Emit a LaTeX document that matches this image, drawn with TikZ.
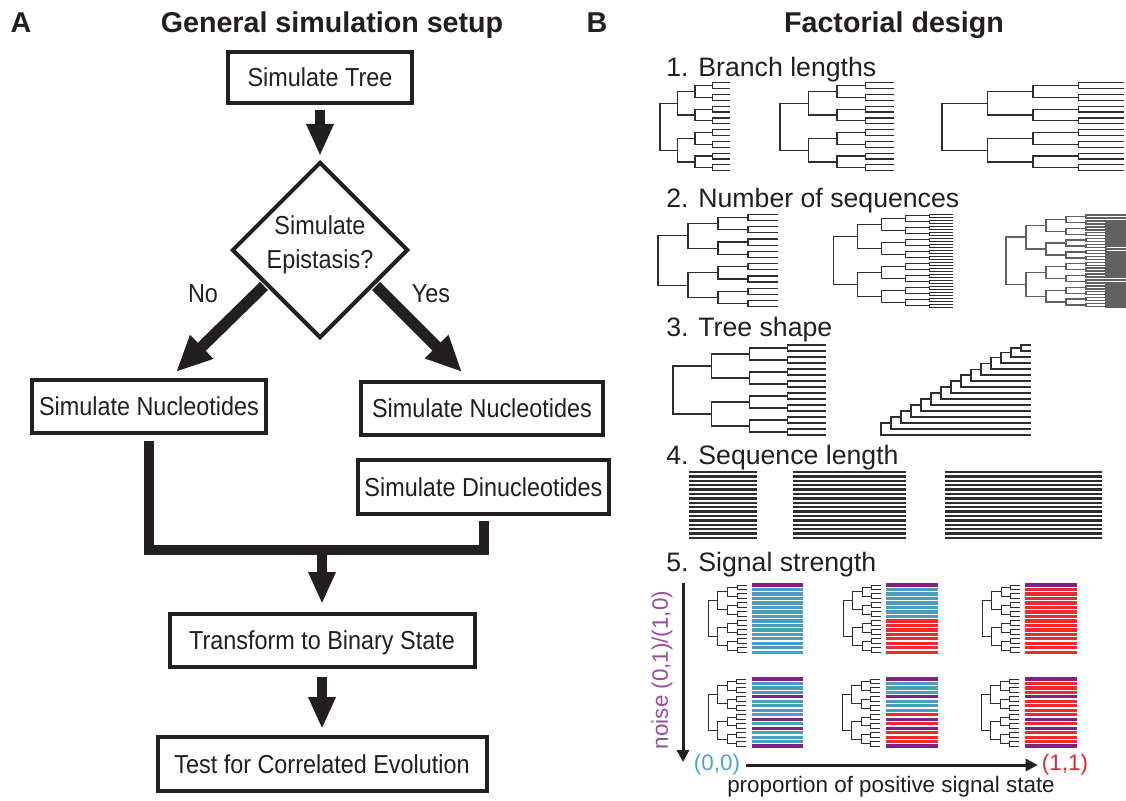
\documentclass[tikz,border=0pt]{standalone}
\usepackage{fontspec}
\setmainfont{Liberation Sans}
\newfontfamily\narrowsans[FakeStretch=0.9]{Liberation Sans}
\usetikzlibrary{arrows.meta,shapes.geometric,calc}

\definecolor{ink}{HTML}{231F20}
\definecolor{sp}{HTML}{7E2180}
\definecolor{sb}{HTML}{4A9EBB}
\definecolor{sr}{HTML}{EE2A2F}
\definecolor{noisepurple}{HTML}{9C4A9E}
\definecolor{zeroblue}{HTML}{4EA5C5}
\definecolor{onered}{HTML}{E8262C}
\definecolor{branch}{gray}{0.18}

% Balanced binary tree: [style] root x, top leaf y, level step, leaf step, depth
\newcommand\baltree[6][]{%
  \pgfmathtruncatemacro\btmax{#6-1}%
  \foreach \lv in {0,...,\btmax}{%
    \pgfmathtruncatemacro\btn{2^\lv-1}%
    \pgfmathsetmacro\btspan{2^(#6-\lv)}%
    \foreach \j in {0,...,\btn}{%
      \pgfmathsetmacro\xa{#2+\lv*#4}%
      \pgfmathsetmacro\xb{#2+(\lv+1)*#4}%
      \pgfmathsetmacro\ya{#3+#5*(\j*\btspan+(\btspan/2-1)/2)}%
      \pgfmathsetmacro\yb{#3+#5*(\j*\btspan+\btspan/2+(\btspan/2-1)/2)}%
      \draw[treeline,#1] (\xb,\ya) -- (\xa,\ya) -- (\xa,\yb) -- (\xb,\yb);
    }%
  }%
}

% Block of coloured sequence lines: x from, x to, top y, step, colour list
\newcommand\seqblock[5]{%
  \foreach \c [count=\i from 0] in #5{%
    \draw[seqline,\c] (#1,#3+\i*#4) -- (#2,#3+\i*#4);
  }%
}

\def\rowOneA{sp,sb,sb,sb,sb,sb,sb,sb,sb,sb,sb,sb,sb,sb,sb,sb}
\def\rowOneB{sp,sb,sb,sb,sb,sb,sb,sb,sr,sr,sr,sr,sr,sr,sr,sr}
\def\rowOneC{sp,sr,sr,sr,sr,sr,sr,sr,sr,sr,sr,sr,sr,sr,sr,sr}
\def\rowTwoA{sp,sb,sb,sb,sp,sb,sb,sb,sb,sp,sb,sp,sb,sb,sb,sp}
\def\rowTwoB{sp,sb,sb,sb,sp,sb,sb,sb,sr,sp,sr,sp,sr,sr,sr,sp}
\def\rowTwoC{sp,sr,sr,sr,sp,sr,sr,sr,sr,sp,sr,sp,sr,sr,sr,sp}

\begin{document}
\begin{tikzpicture}[x=0.75pt,y=-0.75pt,
  headfont/.style={font=\bfseries\fontsize{21.5pt}{26pt}\selectfont, text=ink, inner sep=0pt},
  sectfont/.style={font=\fontsize{20pt}{24pt}\selectfont, text=ink, inner sep=0pt},
  smallfont/.style={font=\fontsize{16.8pt}{20pt}\selectfont, inner sep=0pt},
  flowtext/.style={font=\narrowsans\fontsize{19.5pt}{25.5pt}\selectfont, text=ink, inner sep=0pt},
  flowbox/.style={flowtext, draw=ink, line width=3pt, text height=14pt, text depth=0pt},
  decision/.style={draw=ink, line width=3pt, shape=diamond, aspect=1, inner sep=0pt},
  fatarrow/.style={draw=ink, line width=7.5pt, -{Triangle[length=24pt,width=19pt]}},
  diagarrow/.style={draw=ink, line width=8.5pt, -{Triangle[length=27pt,width=23pt]}},
  fatline/.style={draw=ink, line width=7.5pt, line join=miter},
  treeline/.style={draw=branch, line width=0.9pt},
  seqline/.style={line width=2.4pt},
  plainseq/.style={draw=branch, line width=1.7pt},
  axisarrow/.style={draw=ink, line width=2.25pt, -{Triangle[length=9pt,width=9pt]}}
]
\fill[white] (0,0) rectangle (1126,800);
\useasboundingbox (0,0) rectangle (1126,800);

% ---------------- Panel A: flow chart ----------------
\node[headfont, anchor=base] (labA) at (21,32) {A};
\node[headfont, anchor=base] (titleA) at (332,32) {General simulation setup};

\node[flowbox, minimum width=184*0.75pt, minimum height=51*0.75pt] (tree) at (320,77.5) {Simulate Tree};
\node[decision, minimum width=176*0.75pt, minimum height=176*0.75pt] (dia) at (320,250) {};
\node[flowtext, align=center] (diatext) at (320,245) {Simulate\\Epistasis?};
\node[flowtext, anchor=base] (nolab) at (203,302) {No};
\node[flowtext, anchor=base] (yeslab) at (431,302) {Yes};
\node[flowbox, minimum width=234*0.75pt, minimum height=53*0.75pt] (nucL) at (149,406.5) {Simulate Nucleotides};
\node[flowbox, minimum width=242*0.75pt, minimum height=53*0.75pt] (nucR) at (482,408.5) {Simulate Nucleotides};
\node[flowbox, minimum width=251*0.75pt, minimum height=54*0.75pt] (dinuc) at (483.5,487) {Simulate Dinucleotides};
\node[flowbox, minimum width=305*0.75pt, minimum height=53*0.75pt] (trans) at (322,640.5) {Transform to Binary State};
\node[flowbox, minimum width=329*0.75pt, minimum height=54*0.75pt] (test) at (322,764) {Test for Correlated Evolution};

\coordinate (noA) at (264,286);
\coordinate (noB) at (176,372);
\coordinate (yesA) at (376,286);
\coordinate (yesB) at (462,372);
\coordinate (merge) at (322,550);

\draw[fatarrow, shorten <=3.5pt, shorten >=3pt] (tree) -- (dia);
\draw[diagarrow] (noA) -- (noB);
\draw[diagarrow] (yesA) -- (yesB);
\draw[fatline, shorten <=4.5pt, shorten >=3.75pt] (nucL.south) |- (merge) -| (dinuc.south);
\draw[fatarrow, shorten >=6pt] (merge) -- (trans);
\draw[fatarrow, shorten <=6pt, shorten >=4.5pt] (trans) -- (test);

% ---------------- Panel B: factorial design ----------------
\node[headfont, anchor=base] (labB) at (597,32) {B};
\node[headfont, anchor=base] (titleB) at (894,32) {Factorial design};

\node[sectfont, anchor=base west] (s1) at (666,76) {1. Branch lengths};
\node[sectfont, anchor=base west] (s2) at (666,207) {2. Number of sequences};
\node[sectfont, anchor=base west] (s3) at (666,336) {3. Tree shape};
\node[sectfont, anchor=base west] (s4) at (666,464) {4. Sequence length};
\node[sectfont, anchor=base west] (s5) at (666,571) {5. Signal strength};

% 1. branch lengths
\baltree{660}{82.7}{17.5}{5.867}{4}
\baltree{780}{82.7}{28.5}{5.867}{4}
\baltree{942}{82.7}{45.5}{5.867}{4}

% 2. number of sequences
\baltree{658}{214.3}{30}{6.16}{4}
\baltree[line width=0.7pt]{833}{214.3}{24}{3.0}{5}
\baltree[line width=1.05pt, draw=black!62]{1006}{214.3}{20}{1.476}{6}

% 3. tree shape: balanced and pectinate
\baltree{673}{345}{38.25}{6}{4}
\foreach \k/\ly/\cy in {0/435/423, 1/429/417, 2/423/411, 3/417/405.003,
    4/411/399.006, 5/405/393.01, 6/399/387.02, 7/393/381.05, 8/387/375.09,
    9/381/369.19, 10/375/363.38, 11/369/357.75, 12/363/352.5, 13/357/348}{%
  \draw[treeline] (1031,\ly) -- (881+10*\k,\ly) -- (881+10*\k,\cy) -- (891+10*\k,\cy);
}
\draw[treeline] (1031,351) -- (1021,351) -- (1021,345) -- (1031,345);

% 4. sequence length
\foreach \i in {0,...,15}{%
  \draw[plainseq] (689,472+\i*4.4) -- (757,472+\i*4.4);
  \draw[plainseq] (793,472+\i*4.4) -- (906,472+\i*4.4);
  \draw[plainseq] (945,472+\i*4.4) -- (1102,472+\i*4.4);
}

% 5. signal strength
\baltree[line width=0.75pt]{708}{585}{9.75}{4.49}{4}
\baltree[line width=0.75pt]{843}{585}{9.5}{4.49}{4}
\baltree[line width=0.75pt]{982}{585}{9.5}{4.49}{4}
\seqblock{752}{803}{585}{4.49}{\rowOneA}
\seqblock{886}{938}{585}{4.49}{\rowOneB}
\seqblock{1025}{1077}{585}{4.49}{\rowOneC}

\baltree[line width=0.75pt]{708}{679}{9.6}{4.47}{4}
\baltree[line width=0.75pt]{842}{679}{9.6}{4.47}{4}
\baltree[line width=0.75pt]{981}{679}{9.6}{4.47}{4}
\seqblock{752}{803}{679}{4.47}{\rowTwoA}
\seqblock{886}{938}{679}{4.47}{\rowTwoB}
\seqblock{1025}{1077}{679}{4.47}{\rowTwoC}

\node[smallfont, text=noisepurple, rotate=90] (noise) at (662,670) {noise (0,1)/(1,0)};
\node[smallfont, text=zeroblue] (zero) at (717,765) {(0,0)};
\node[smallfont, text=onered] (one) at (1065,765) {(1,1)};
\node[smallfont, text=ink] (prop) at (891,787) {proportion of positive signal state};

\coordinate (vtop) at (683,583);
\coordinate (vbot) at (683,762);
\draw[axisarrow] (vtop) -- (vbot);
\draw[axisarrow, shorten <=4pt, shorten >=3pt] (zero.east) -- (one.west);
\end{tikzpicture}
\end{document}
